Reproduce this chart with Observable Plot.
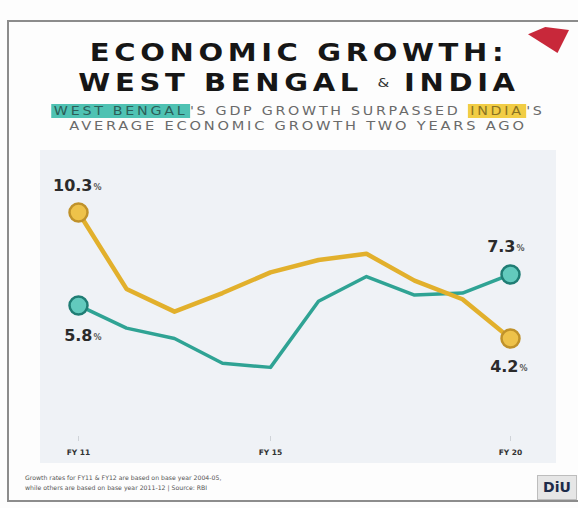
<!DOCTYPE html>
<html>
<head>
<meta charset="utf-8">
<script src="https://cdn.jsdelivr.net/npm/d3@7"></script>
<script src="https://cdn.jsdelivr.net/npm/@observablehq/plot@0.6"></script>
<style>
  html, body { margin:0; padding:0; }
  body { width:578px; height:508px; position:relative; overflow:hidden; background:#fdfdfd; font-family:"DejaVu Sans", sans-serif; }
  .abs { position:absolute; }
  #frame { left:7px; top:20px; width:600px; height:482px; border:2px solid #8c8c8c; box-sizing:border-box; }
  .title { left:0; width:598px; text-align:center; font-family:"DejaVu Sans", sans-serif; font-weight:bold; color:#161616; font-size:25px; letter-spacing:4px; line-height:29.5px; transform:scaleX(1.16); transform-origin:299px 0; white-space:nowrap; }
  .amp { font-size:13px; font-weight:normal; vertical-align:4px; color:#333; letter-spacing:0; }
  .sub { left:0; width:596px; text-align:center; font-family:"DejaVu Sans", sans-serif; font-size:11.5px; color:#6a6a6a; letter-spacing:2.2px; line-height:14px; white-space:nowrap; transform-origin:298px 0; }
  .hl-wb { background:#4fc2b3; color:#2c5e58; padding:0 2px; }
  .hl-in { background:#f1cd45; color:#8a7322; padding:0 2px; }
  #chart { left:40px; top:150px; }
  .foot { left:25px; font-size:6.2px; color:#555; line-height:9px; white-space:nowrap; }
  #logo { left:528px; top:27px; width:41px; height:26px; background:#c8283a; clip-path:polygon(0% 28%, 42% 0%, 100% 12%, 72% 100%); }
  #diu { left:537px; top:475px; width:40px; height:25px; background:#e6e6e6; border:1px solid #bdbdbd; box-sizing:border-box; font-family:"DejaVu Sans", sans-serif; font-weight:bold; font-size:14px; color:#1d2b4a; text-align:center; line-height:23px; }
</style>
</head>
<body>
<div id="frame" class="abs"></div>
<div class="abs title" style="top:38px;">ECONOMIC GROWTH:<br>WEST BENGAL <span class="amp">&amp;</span> INDIA</div>
<div class="abs sub" style="top:104px; transform:scaleX(1.24);"><span class="hl-wb">WEST BENGAL</span>'S GDP GROWTH SURPASSED <span class="hl-in">INDIA</span>'S</div>
<div class="abs sub" style="top:119px; transform:scaleX(1.27);">AVERAGE ECONOMIC GROWTH TWO YEARS AGO</div>
<div id="logo" class="abs"></div>
<div id="chart" class="abs"></div>
<div class="abs foot" style="top:473px;">Growth rates for FY11 &amp; FY12 are based on base year 2004-05,</div>
<div class="abs foot" style="top:483px;">while others are based on base year 2011-12 | Source: RBI</div>
<div id="diu" class="abs">DiU</div>
<script>
// ---- data ----
const years = ["FY 11","FY 12","FY 13","FY 14","FY 15","FY 16","FY 17","FY 18","FY 19","FY 20"];
const westBengal = [5.8, 4.7, 4.2, 3.0, 2.8, 6.0, 7.2, 6.3, 6.4, 7.3];
const india = [10.3, 6.6, 5.5, 6.4, 7.4, 8.0, 8.3, 7.0, 6.1, 4.2];
const tickLabels = ["FY 11","FY 15","FY 20"];
const seriesNames = ["West Bengal","India"];

// ---- styling ----
const tealLine = "#2fa394", tealFill = "#62cabd", tealStroke = "#1f7d74";
const goldLine = "#e2b02c", goldFill = "#eec24a", goldStroke = "#c0922a";

const wbData = years.map((y,i) => ({year:y, value:westBengal[i], series:seriesNames[0]}));
const inData = years.map((y,i) => ({year:y, value:india[i], series:seriesNames[1]}));
const ends = d => [d[0], d[d.length-1]];
const fmt = v => v.toFixed(1);

const labelOpts = (dx, dy) => ({x:"year", y:"value", text: r => fmt(r.value), dx, dy, textAnchor:"end", fontSize:16, fontWeight:"bold", fill:"#2b2b2b"});
const pctOpts = (dx, dy) => ({x:"year", y:"value", text: () => "%", dx, dy:dy+2, textAnchor:"start", fontSize:8, fontWeight:"bold", fill:"#555"});

const chart = Plot.plot({
  width:516, height:313,
  marginLeft:37, marginRight:45, marginTop:0, marginBottom:27,
  style:{background:"#eff2f6", fontFamily:"DejaVu Sans, sans-serif", overflow:"visible"},
  x:{type:"point", domain:years, padding:0, axis:null},
  y:{domain:[2,12], range:[233.4, 26.9], axis:null},
  marks:[
    Plot.axisX(tickLabels, {tickSize:5, tickPadding:8, stroke:"#cfd3d8", fill:"#333", fontSize:7.5, fontWeight:"bold", label:null}),
    Plot.lineY(wbData, {x:"year", y:"value", stroke:tealLine, strokeWidth:3.5, strokeLinejoin:"round"}),
    Plot.lineY(inData, {x:"year", y:"value", stroke:goldLine, strokeWidth:4.5, strokeLinejoin:"round"}),
    Plot.dot(ends(wbData), {x:"year", y:"value", r:9, fill:tealFill, stroke:tealStroke, strokeWidth:2.5}),
    Plot.dot(ends(inData), {x:"year", y:"value", r:9, fill:goldFill, stroke:goldStroke, strokeWidth:2.5}),
    // value labels
    Plot.text([inData[0]], labelOpts(14, -27)),
    Plot.text([inData[0]], pctOpts(15, -27)),
    Plot.text([wbData[0]], labelOpts(14, 30)),
    Plot.text([wbData[0]], pctOpts(15, 30)),
    Plot.text([wbData[9]], labelOpts(5, -28)),
    Plot.text([wbData[9]], pctOpts(6, -28)),
    Plot.text([inData[9]], labelOpts(8, 28)),
    Plot.text([inData[9]], pctOpts(9, 28))
  ]
});
document.getElementById("chart").appendChild(chart);
</script>
</body>
</html>
